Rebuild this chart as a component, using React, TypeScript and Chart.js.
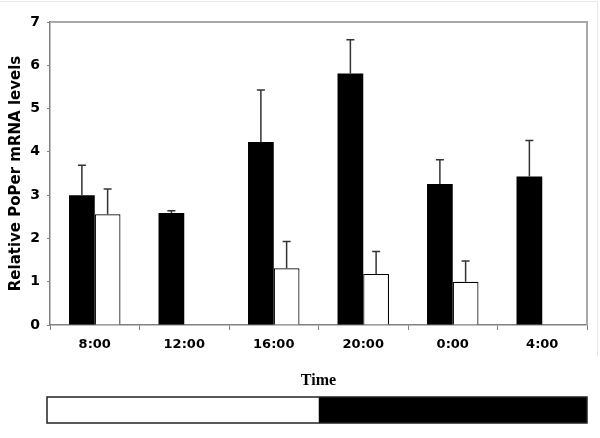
import React, { useEffect, useRef } from "react";
import { Chart, registerables } from "chart.js";

Chart.register(...registerables);

const categories = ["8:00", "12:00", "16:00", "20:00", "0:00", "4:00"];
const blackValues = [3.0, 2.59, 4.23, 5.81, 3.26, 3.43];
const whiteValues: (number | null)[] = [2.56, null, 1.31, 1.18, 1.0, null];
const blackErrors = [0.69, 0.05, 1.2, 0.78, 0.56, 0.83];
const whiteErrors: (number | null)[] = [0.58, null, 0.62, 0.52, 0.48, null];
const yTicks = [0, 1, 2, 3, 4, 5, 6, 7];
const yTitle = "Relative PoPer mRNA levels";
const xTitle = "Time";

const TICK_FONT = "'DejaVu Sans', Verdana, sans-serif";

const errorBarPlugin = {
  id: "errorBars",
  afterDatasetsDraw(chart: any) {
    const ctx = chart.ctx;
    const y = chart.scales.y;
    const errs = [blackErrors, whiteErrors];
    const vals = [blackValues, whiteValues];
    ctx.save();
    ctx.strokeStyle = "#333";
    ctx.lineWidth = 1.5;
    for (let d = 0; d < 2; d++) {
      const meta = chart.getDatasetMeta(d);
      meta.data.forEach((bar: any, i: number) => {
        const v = vals[d][i];
        const e = errs[d][i];
        if (v == null || e == null) return;
        const x = bar.x;
        const y0 = y.getPixelForValue(v);
        const y1 = y.getPixelForValue(v + e);
        ctx.beginPath();
        ctx.moveTo(x, y0);
        ctx.lineTo(x, y1);
        ctx.moveTo(x - 4, y1);
        ctx.lineTo(x + 4, y1);
        ctx.stroke();
      });
    }
    ctx.restore();
  },
};

const decorPlugin = {
  id: "decor",
  beforeDraw(chart: any) {
    const ctx = chart.ctx;
    ctx.save();
    ctx.fillStyle = "#fff";
    ctx.fillRect(0, 0, chart.width, chart.height);
    ctx.strokeStyle = "#e6e6e6";
    ctx.lineWidth = 1;
    ctx.beginPath();
    ctx.moveTo(0, 1.5);
    ctx.lineTo(597.5, 1.5);
    ctx.lineTo(597.5, 356);
    ctx.stroke();
    ctx.restore();
  },
  afterDraw(chart: any) {
    const ctx = chart.ctx;
    const area = chart.chartArea;
    const xs = chart.scales.x;
    ctx.save();
    ctx.strokeStyle = "#a8a8a8";
    ctx.lineWidth = 2;
    ctx.beginPath();
    ctx.moveTo(area.left, area.top);
    ctx.lineTo(area.right, area.top);
    ctx.lineTo(area.right, area.bottom);
    ctx.stroke();

    ctx.fillStyle = "#000";
    ctx.font = "bold 16px 'Liberation Serif', 'Times New Roman', serif";
    ctx.textAlign = "center";
    ctx.textBaseline = "middle";
    ctx.fillText(xTitle, (area.left + area.right) / 2, area.bottom + 56);

    const top = area.bottom + 72;
    const h = 26;
    const left = area.left - 3;
    const mid = (xs.getPixelForTick(2) + xs.getPixelForTick(3)) / 2;
    const right = area.right;
    ctx.fillStyle = "#000";
    ctx.fillRect(mid, top, right - mid, h);
    ctx.fillStyle = "#fff";
    ctx.fillRect(left, top, mid - left, h);
    ctx.strokeStyle = "#222";
    ctx.lineWidth = 1.5;
    ctx.strokeRect(left, top, right - left, h);
    ctx.restore();
  },
};

export default function App() {
  const ref = useRef<HTMLCanvasElement>(null);
  useEffect(() => {
    if (!ref.current) return;
    const chart = new Chart(ref.current, {
      type: "bar",
      data: {
        labels: categories,
        datasets: [
          {
            label: "dark",
            data: blackValues,
            backgroundColor: "#000",
            borderColor: "#000",
            borderWidth: 0,
            categoryPercentage: 0.575,
            barPercentage: 1,
          },
          {
            label: "light",
            data: whiteValues,
            backgroundColor: "#fff",
            borderColor: "#000",
            borderWidth: 1.2,
            categoryPercentage: 0.575,
            barPercentage: 1,
          },
        ],
      },
      options: {
        responsive: false,
        animation: false,
        layout: { padding: { left: 0, top: 22, right: 13, bottom: 0 } },
        plugins: {
          legend: { display: false },
          tooltip: { enabled: false },
        },
        scales: {
          x: {
            offset: true,
            grid: {
              offset: true,
              drawOnChartArea: false,
              tickLength: 5,
              color: "#808080",
            },
            border: { color: "#808080", width: 1.5 },
            ticks: {
              color: "#000",
              padding: 7,
              font: { family: TICK_FONT, size: 13, weight: "bold" },
              maxRotation: 0,
            },
            afterFit(scale: any) {
              scale.height = 113;
            },
          },
          y: {
            min: 0,
            max: 7,
            afterBuildTicks(scale: any) {
              scale.ticks = yTicks.map((v) => ({ value: v }));
            },
            grid: {
              drawOnChartArea: false,
              tickLength: 3,
              color: "#808080",
            },
            border: { color: "#808080", width: 1.5 },
            ticks: {
              color: "#000",
              padding: 7,
              font: { family: TICK_FONT, size: 14, weight: "bold" },
            },
            title: {
              display: true,
              text: yTitle,
              color: "#000",
              font: { family: TICK_FONT, size: 15, weight: "bold" },
              padding: { top: 7, bottom: 0 },
            },
            afterFit(scale: any) {
              scale.width = 50;
            },
          },
        },
      },
      plugins: [errorBarPlugin, decorPlugin],
    } as any);
    return () => chart.destroy();
  }, []);
  return (
    <div style={{ position: "absolute", left: 0, top: 0, width: 600, height: 438 }}>
      <canvas ref={ref} width={600} height={438} />
    </div>
  );
}
